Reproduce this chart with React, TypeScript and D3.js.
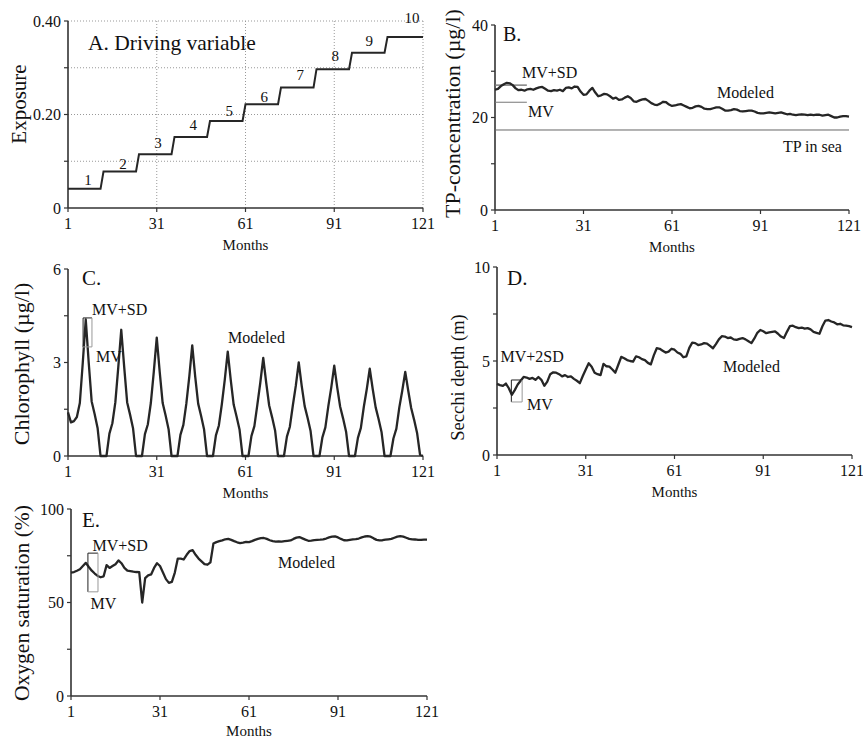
import React from "react";
import * as d3 from "d3";

const FONT = "'Liberation Serif', 'Times New Roman', Times, serif";

// ---------- shared ----------
const monthTicks = [1, 31, 61, 91, 121];
const monthDomain = [1, 121];

// ---------- A. Driving variable ----------
const exposureLevels = [0.041, 0.078, 0.115, 0.152, 0.186, 0.222, 0.258, 0.297, 0.332, 0.366];
const exposureStartMonths = [1, 13, 25, 37, 49, 61, 73, 85, 97, 109];
const exposureEndMonths = [12, 24, 36, 48, 60, 72, 84, 96, 108, 121];
const stepLabels = ["1", "2", "3", "4", "5", "6", "7", "8", "9", "10"];
const stepLabelMonths = [7.8, 19.6, 31.4, 43.3, 55.5, 67.3, 79.5, 91.3, 102.8, 117.3];
const stepLabelValues = [0.06, 0.094, 0.139, 0.178, 0.208, 0.238, 0.285, 0.325, 0.357, 0.406];
const exposureTicks = [0, 0.1, 0.2, 0.3, 0.4];
const exposureTickLabels = ["0", "", "0.20", "", "0.40"];

// ---------- B. TP concentration ----------
const tpModeled = [
  26.0, 26.2, 26.8, 27.2, 27.5, 27.4, 27.0, 26.3, 25.9, 26.0, 25.8, 26.1,
  26.2, 26.0, 26.3, 26.5, 26.6, 26.2, 25.8, 25.7, 25.9, 25.8, 26.0, 25.7,
  26.4, 26.5, 26.3, 26.7, 26.6, 25.6, 24.9, 25.0, 25.8, 26.4, 25.4, 24.6,
  24.8, 25.1, 25.0, 24.6, 24.1, 24.3, 23.8, 23.9, 24.3, 24.6, 24.2, 23.5,
  23.4, 23.7, 23.9, 24.0, 23.6, 23.1, 22.8, 22.7, 23.0, 23.4, 23.3, 22.8,
  22.5, 22.6, 22.8, 22.9, 22.6, 22.3, 22.0, 22.1, 22.4, 22.5, 22.3, 21.9,
  21.8, 21.8, 22.0, 22.2, 22.2, 21.9, 21.5, 21.5, 21.6, 21.8, 21.7, 21.4,
  21.3, 21.4, 21.5, 21.5, 21.3, 21.0, 20.9, 20.9, 21.0, 21.1, 21.0, 20.9,
  21.0, 21.1, 20.9, 20.7, 20.8, 20.6, 20.5, 20.6, 20.7, 20.6, 20.5, 20.6,
  20.5, 20.6, 20.6, 20.4, 20.5, 20.6, 20.3, 20.0, 20.0, 20.2, 20.3, 20.3, 20.2,
];
const tpMV = 23.3;
const tpMVSD = 27.0;
const tpObsMonths = [1, 11.8];
const tpSea = 17.3;
const tpTicks = [0, 10, 20, 30, 40];
const tpTickLabels = ["0", "", "20", "", "40"];

// ---------- C. Chlorophyll ----------
const chlModeled = [
  1.40, 1.08, 1.12, 1.25, 1.70, 3.00, 4.38,
  3.00, 1.75, 1.35, 0.90, 0, 0, 0, 0.72, 1.05, 1.72, 2.85, 4.05,
  2.85, 1.72, 1.32, 0.88, 0, 0, 0, 0.70, 1.02, 1.70, 2.70, 3.80,
  2.70, 1.70, 1.30, 0.86, 0, 0, 0, 0.68, 1.00, 1.68, 2.55, 3.55,
  2.55, 1.68, 1.28, 0.85, 0, 0, 0, 0.66, 0.98, 1.66, 2.45, 3.35,
  2.45, 1.65, 1.26, 0.84, 0, 0, 0, 0.64, 0.96, 1.64, 2.35, 3.15,
  2.35, 1.62, 1.24, 0.82, 0, 0, 0, 0.62, 0.94, 1.62, 2.25, 3.00,
  2.25, 1.60, 1.22, 0.80, 0, 0, 0, 0.60, 0.92, 1.60, 2.20, 2.90,
  2.20, 1.58, 1.20, 0.78, 0, 0, 0, 0.58, 0.90, 1.58, 2.15, 2.80,
  2.15, 1.56, 1.18, 0.76, 0, 0, 0, 0.56, 0.88, 1.56, 2.10, 2.70,
  2.10, 1.54, 1.16, 0.74, 0.04, 0,
];
const chlBoxMonths = [6.1, 9.1];
const chlBoxValues = [3.5, 4.43];
const chlTicks = [0, 1.5, 3, 4.5, 6];
const chlTickLabels = ["0", "", "3", "", "6"];

// ---------- D. Secchi depth ----------
const secchiModeled = [
  3.78, 3.72, 3.68, 3.80, 3.55, 3.20, 3.45, 3.75, 3.95, 4.15, 4.12, 4.05,
  4.10, 4.00, 4.15, 4.00, 3.68, 3.90, 4.30, 4.40, 4.38, 4.30, 4.18, 4.25,
  4.15, 4.18, 4.05, 3.95, 3.82, 4.20, 4.55, 4.88, 4.70, 4.38, 4.30, 4.25,
  4.85, 4.72, 4.70, 4.55, 4.38, 4.80, 5.22, 5.15, 5.05, 5.00, 4.97, 5.25,
  5.20, 5.10, 5.05, 4.90, 4.82, 5.30, 5.68, 5.65, 5.55, 5.45, 5.50, 5.65,
  5.60, 5.45, 5.38, 5.20, 5.25, 5.70, 5.98, 5.95, 5.85, 5.88, 5.95, 5.92,
  5.80, 5.68, 5.90, 6.15, 6.32, 6.30, 6.22, 6.25, 6.15, 6.12, 6.18, 6.22,
  6.15, 6.05, 5.95, 6.20, 6.50, 6.65, 6.58, 6.48, 6.52, 6.55, 6.58, 6.45,
  6.30, 6.22, 6.55, 6.85, 6.88, 6.80, 6.75, 6.78, 6.72, 6.75, 6.68, 6.55,
  6.50, 6.45, 6.85, 7.15, 7.18, 7.10, 7.05, 6.95, 6.98, 6.90, 6.88, 6.85, 6.80,
];
const secchiBoxMonths = [5.85, 9.5];
const secchiBoxValues = [2.82, 3.99];
const secchiTicks = [0, 2.5, 5, 7.5, 10];
const secchiTickLabels = ["0", "", "5", "", "10"];

// ---------- E. Oxygen saturation ----------
const oxygenModeled = [
  66.0, 66.3, 67.0, 67.8, 69.5, 71.2, 69.0, 67.0, 65.5, 64.2, 63.5, 64.0,
  70.0, 68.5, 69.5, 70.5, 72.5, 71.0, 68.5, 67.0, 66.8, 66.5, 66.3, 66.2,
  50.0, 63.0, 64.5, 65.0, 68.5, 71.0, 69.5, 66.0, 62.5, 60.5, 61.0, 66.0,
  73.5, 73.5, 73.0, 75.5, 77.5, 78.0, 75.5, 73.5, 72.0, 70.5, 70.2, 71.5,
  81.5, 82.3, 82.8, 83.2, 83.8, 84.0, 83.5, 82.8, 82.2, 81.8, 82.0, 82.4,
  82.3, 82.8, 83.5, 84.0, 84.4, 84.5, 84.0, 83.3, 82.8, 82.6, 82.7, 82.6,
  82.8, 83.0, 83.2, 84.0, 84.7, 85.0, 84.3, 83.6, 83.0, 83.1, 83.3, 83.5,
  83.6, 83.8, 84.2, 84.8, 85.2, 85.4, 84.8, 84.0, 83.3, 83.2, 83.5, 83.8,
  83.9, 84.2, 84.8, 85.3, 85.5, 85.2, 84.3, 83.5, 83.2, 83.3, 83.6, 83.8,
  84.0, 84.6, 85.2, 85.5, 85.2, 84.6, 84.0, 83.8, 83.7, 83.5, 83.5, 83.6, 83.6,
];
const oxygenBoxMonths = [6.7, 10.1];
const oxygenBoxValues = [55.7, 76.4];
const oxygenTicks = [0, 25, 50, 75, 100];
const oxygenTickLabels = ["0", "", "50", "", "100"];

type Scale = d3.ScaleLinear<number, number>;

const AXIS = "#333";
const LINE = "#262626";
const TXT = "#111";

function Axes({
  x,
  y,
  ticks,
  tickLabels,
  monthsOffset = 42,
}: {
  x: Scale;
  y: Scale;
  ticks: number[];
  tickLabels: string[];
  monthsOffset?: number;
}) {
  const [y0v, y1v] = y.domain();
  const x0 = x(monthDomain[0]);
  const x1 = x(monthDomain[1]);
  const yb = y(y0v);
  return (
    <g>
      <line x1={x0} x2={x1} y1={yb} y2={yb} stroke={AXIS} strokeWidth={1.6} />
      <line x1={x0} x2={x0} y1={y(y0v)} y2={y(y1v)} stroke={AXIS} strokeWidth={1.6} />
      {monthTicks.map((m) => (
        <g key={"xt" + m}>
          <line x1={x(m)} x2={x(m)} y1={yb} y2={yb + 4} stroke={AXIS} strokeWidth={1.2} />
          <text x={x(m)} y={yb + 21} textAnchor="middle" fontSize={16} fill={TXT} fontFamily={FONT}>
            {m}
          </text>
        </g>
      ))}
      {ticks.map((t, i) => (
        <g key={"yt" + t}>
          <line x1={x0 - 4} x2={x0} y1={y(t)} y2={y(t)} stroke={AXIS} strokeWidth={1.2} />
          {tickLabels[i] ? (
            <text x={x0 - 7} y={y(t)} dy="0.35em" textAnchor="end" fontSize={16} fill={TXT} fontFamily={FONT}>
              {tickLabels[i]}
            </text>
          ) : null}
        </g>
      ))}
      <text x={(x0 + x1) / 2} y={yb + monthsOffset} textAnchor="middle" fontSize={15} fill={TXT} fontFamily={FONT}>
        Months
      </text>
    </g>
  );
}

function YLabel({ cx, cy, size, text }: { cx: number; cy: number; size: number; text: string }) {
  return (
    <text
      transform={`translate(${cx},${cy}) rotate(-90)`}
      textAnchor="middle"
      dominantBaseline="central"
      fontSize={size}
      fill={TXT}
      fontFamily={FONT}
    >
      {text}
    </text>
  );
}

function Label({ x, y, size = 16, children }: { x: number; y: number; size?: number; children: React.ReactNode }) {
  return (
    <text x={x} y={y} fontSize={size} fill={TXT} fontFamily={FONT}>
      {children}
    </text>
  );
}

function ObsBox({ x, y, months, values }: { x: Scale; y: Scale; months: number[]; values: number[] }) {
  const l = x(months[0]);
  const r = x(months[1]);
  const b = y(values[0]);
  const t = y(values[1]);
  return (
    <g fill="none" strokeWidth={1}>
      <line x1={l} x2={r} y1={t} y2={t} stroke="#222" />
      <line x1={l} x2={l} y1={t} y2={b} stroke="#222" />
      <line x1={r} x2={r} y1={t} y2={b} stroke="#999" />
      <line x1={l} x2={r} y1={b} y2={b} stroke="#999" />
    </g>
  );
}

function seriesPath(x: Scale, y: Scale, values: number[]) {
  return (
    d3
      .line<number>()
      .x((_, i) => x(i + 1))
      .y((d) => y(d))(values) || ""
  );
}

export default function App() {
  // Panel A
  const xA = d3.scaleLinear().domain(monthDomain).range([68, 423]);
  const yA = d3.scaleLinear().domain([0, 0.4]).range([208, 21]);
  const stepPts: [number, number][] = [];
  exposureLevels.forEach((lv, i) => {
    stepPts.push([exposureStartMonths[i], lv]);
    stepPts.push([exposureEndMonths[i], lv]);
  });
  const stepPath =
    d3
      .line<[number, number]>()
      .x((d) => xA(d[0]))
      .y((d) => yA(d[1]))(stepPts) || "";

  // Panel B
  const xB = d3.scaleLinear().domain(monthDomain).range([495, 849]);
  const yB = d3.scaleLinear().domain([0, 40]).range([210, 25]);

  // Panel C
  const xC = d3.scaleLinear().domain(monthDomain).range([68, 423]);
  const yC = d3.scaleLinear().domain([0, 6]).range([456, 269]);

  // Panel D
  const xD = d3.scaleLinear().domain(monthDomain).range([497, 852]);
  const yD = d3.scaleLinear().domain([0, 10]).range([455, 267]);

  // Panel E
  const xE = d3.scaleLinear().domain(monthDomain).range([71, 427]);
  const yE = d3.scaleLinear().domain([0, 100]).range([696, 509]);

  return (
    <svg
      width={863}
      height={738}
      viewBox="0 0 863 738"
      style={{ position: "absolute", left: 0, top: 0, background: "#fff" }}
    >
      <rect width={863} height={738} fill="#fff" />

      {/* ---------- A ---------- */}
      <g>
        {exposureTicks.slice(1).map((t) => (
          <line
            key={"ga" + t}
            x1={xA(1)}
            x2={xA(121)}
            y1={yA(t)}
            y2={yA(t)}
            stroke="#999"
            strokeWidth={1}
            strokeDasharray="1,2"
          />
        ))}
        {monthTicks.slice(1).map((m) => (
          <line
            key={"gv" + m}
            x1={xA(m)}
            x2={xA(m)}
            y1={yA(0)}
            y2={yA(0.4)}
            stroke="#999"
            strokeWidth={1}
            strokeDasharray="1,2"
          />
        ))}
        <Axes x={xA} y={yA} ticks={exposureTicks} tickLabels={exposureTickLabels} />
        <path d={stepPath} fill="none" stroke={LINE} strokeWidth={2} />
        {stepLabels.map((s, i) => (
          <text
            key={"sl" + s}
            x={xA(stepLabelMonths[i])}
            y={yA(stepLabelValues[i])}
            dy="0.35em"
            textAnchor="middle"
            fontSize={15}
            fill={TXT}
            fontFamily={FONT}
          >
            {s}
          </text>
        ))}
        <Label x={88} y={50} size={21.5}>
          A. Driving variable
        </Label>
        <YLabel cx={19} cy={104} size={21} text="Exposure" />
      </g>

      {/* ---------- B ---------- */}
      <g>
        <Axes x={xB} y={yB} ticks={tpTicks} tickLabels={tpTickLabels} />
        <line x1={xB(1)} x2={xB(121)} y1={yB(tpSea)} y2={yB(tpSea)} stroke="#666" strokeWidth={1} />
        <line x1={xB(tpObsMonths[0])} x2={xB(tpObsMonths[1])} y1={yB(tpMVSD)} y2={yB(tpMVSD)} stroke="#777" strokeWidth={1.4} />
        <line x1={xB(tpObsMonths[0])} x2={xB(tpObsMonths[1])} y1={yB(tpMV)} y2={yB(tpMV)} stroke="#777" strokeWidth={1} />
        <path d={seriesPath(xB, yB, tpModeled)} fill="none" stroke={LINE} strokeWidth={2.3} strokeLinejoin="round" />
        <Label x={503} y={40.5} size={20}>B.</Label>
        <Label x={522} y={78}>MV+SD</Label>
        <Label x={528} y={117}>MV</Label>
        <Label x={717} y={98}>Modeled</Label>
        <Label x={783} y={151.5}>TP in sea</Label>
        <YLabel cx={452} cy={113.5} size={22} text="TP-concentration (µg/l)" />
      </g>

      {/* ---------- C ---------- */}
      <g>
        <Axes x={xC} y={yC} ticks={chlTicks} tickLabels={chlTickLabels} />
        <path d={seriesPath(xC, yC, chlModeled)} fill="none" stroke={LINE} strokeWidth={2.3} strokeLinejoin="round" />
        <ObsBox x={xC} y={yC} months={chlBoxMonths} values={chlBoxValues} />
        <Label x={82} y={285} size={21}>C.</Label>
        <Label x={92} y={315}>MV+SD</Label>
        <Label x={96} y={361.5}>MV</Label>
        <Label x={228} y={343}>Modeled</Label>
        <YLabel cx={21} cy={364} size={22} text="Chlorophyll (µg/l)" />
      </g>

      {/* ---------- D ---------- */}
      <g>
        <Axes x={xD} y={yD} ticks={secchiTicks} tickLabels={secchiTickLabels} />
        <path d={seriesPath(xD, yD, secchiModeled)} fill="none" stroke={LINE} strokeWidth={2.3} strokeLinejoin="round" />
        <ObsBox x={xD} y={yD} months={secchiBoxMonths} values={secchiBoxValues} />
        <Label x={507} y={285} size={21}>D.</Label>
        <Label x={500.5} y={361.5}>MV+2SD</Label>
        <Label x={527} y={410}>MV</Label>
        <Label x={723} y={371.5}>Modeled</Label>
        <YLabel cx={458} cy={377.5} size={18.5} text="Secchi depth (m)" />
      </g>

      {/* ---------- E ---------- */}
      <g>
        <Axes x={xE} y={yE} ticks={oxygenTicks} tickLabels={oxygenTickLabels} monthsOffset={39.5} />
        <path d={seriesPath(xE, yE, oxygenModeled)} fill="none" stroke={LINE} strokeWidth={2.3} strokeLinejoin="round" />
        <ObsBox x={xE} y={yE} months={oxygenBoxMonths} values={oxygenBoxValues} />
        <Label x={82} y={527} size={21}>E.</Label>
        <Label x={92.5} y={551}>MV+SD</Label>
        <Label x={90.5} y={609}>MV</Label>
        <Label x={278} y={568}>Modeled</Label>
        <YLabel cx={22} cy={603} size={21.5} text="Oxygen saturation (%)" />
      </g>
    </svg>
  );
}
